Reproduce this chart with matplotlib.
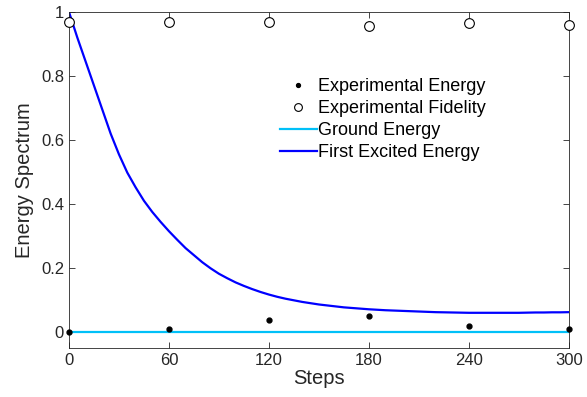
"""
Energy spectrum vs steps: experimental energy/fidelity points over
ground and first-excited energy curves.
"""
import numpy as np
import matplotlib.pyplot as plt

plt.rcParams['font.family'] = ['Liberation Sans', 'DejaVu Sans']

# experimental points
exp_steps = [0, 60, 120, 180, 240, 300]
exp_energy = [0.0, 0.0105, 0.036, 0.050, 0.019, 0.009]
exp_fidelity = [0.969, 0.969, 0.969, 0.955, 0.966, 0.958]

# curves, every 5 steps
curve_steps = list(range(0, 301, 5))
ground_energy = [0.0] * len(curve_steps)
excited_energy = [
    1.00, 0.92, 0.845, 0.77, 0.695, 0.62, 0.555, 0.498, 0.452, 0.41,
    0.375, 0.344, 0.315, 0.288, 0.262, 0.24, 0.218, 0.199, 0.182, 0.168,
    0.155, 0.144, 0.134, 0.125, 0.117, 0.110, 0.104, 0.099, 0.094, 0.090,
    0.086, 0.083, 0.080, 0.077, 0.075, 0.073, 0.071, 0.0695, 0.068, 0.067,
    0.066, 0.065, 0.064, 0.063, 0.062, 0.0615, 0.061, 0.0605, 0.060, 0.060,
    0.060, 0.060, 0.060, 0.060, 0.060, 0.0605, 0.061, 0.061, 0.0615, 0.0615,
    0.062]

x_ticks = [0, 60, 120, 180, 240, 300]
y_ticks = [0, 0.2, 0.4, 0.6, 0.8, 1]
y_ticklabels = ['0', '0.2', '0.4', '0.6', '0.8', '1']

fig = plt.figure(figsize=(5.87, 3.97), dpi=100)
ax = fig.add_axes([0.1175, 0.1234, 0.8515, 0.8466])

ax.plot(exp_steps, exp_energy, 'o', color='black', markersize=3.5,
        label='Experimental Energy', clip_on=False, zorder=4)
ax.plot(exp_steps, exp_fidelity, 'o', mfc='white', mec='black', mew=0.8,
        markersize=7, label='Experimental Fidelity', clip_on=False, zorder=4)
ax.plot(curve_steps, ground_energy, color='#00C0F8', lw=1.6, label='Ground Energy')
ax.plot(curve_steps, excited_energy, color='#0000FF', lw=1.6,
        label='First Excited Energy')

ax.set_xlim(0, 300)
ax.set_ylim(-0.05, 1)
ax.set_xticks(x_ticks)
ax.set_yticks(y_ticks)
ax.set_yticklabels(y_ticklabels)
ax.tick_params(direction='in', top=True, right=True, labelsize=12,
               colors='#262626', length=4, width=0.6)
for s in ax.spines.values():
    s.set_color('#262626')
    s.set_linewidth(0.6)

ax.set_xlabel('Steps', fontsize=14.5, color='#262626', labelpad=1)
ax.set_ylabel('Energy Spectrum', fontsize=14.5, color='#262626', labelpad=5)

ax.legend(loc='upper left', bbox_to_anchor=(0.405, 0.83), frameon=False,
          fontsize=13, handlelength=2.0, handletextpad=0.1,
          labelspacing=0.28, borderpad=0, markerscale=0.8)

plt.savefig('out.png', dpi=100)
plt.close()
